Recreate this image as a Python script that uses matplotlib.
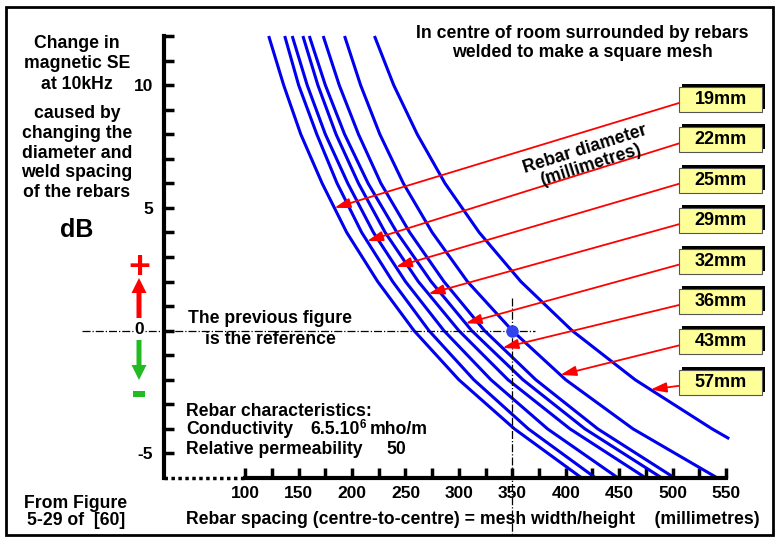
import numpy as np
import matplotlib
matplotlib.use("Agg")
import matplotlib.pyplot as plt
from matplotlib.patches import Rectangle, FancyArrow
from matplotlib.transforms import Affine2D

plt.rcParams['font.family'] = ['Liberation Sans', 'DejaVu Sans']
plt.rcParams['font.weight'] = 'bold'
plt.rcParams['axes.unicode_minus'] = False

# rebar diameters and the curves (spacing in mm at given dB)
diameters = ['19mm', '22mm', '25mm', '29mm', '32mm', '36mm', '43mm', '57mm']
db_levels = [12, 10, 8, 6, 4, 2, 0, -2, -4, -6]
spacing_19 = [122, 136, 152, 172, 195, 224, 258, 300, 352, 415]
spacing_22 = [137, 150, 167, 186, 209, 238, 272, 314, 365, 428]
spacing_25 = [144, 158, 175, 196, 220, 250, 286, 330, 383, 449]
spacing_29 = [154, 168, 185, 206, 231, 262, 300, 346, 404, 475]
spacing_32 = [160, 175, 193, 215, 242, 274, 312, 360, 418, 490]
spacing_36 = [173, 188, 206, 227, 254, 286, 324, 372, 430, 502]
spacing_43 = [193, 208, 226, 248, 275, 308, 350, 400, 463, 542]
db_57 = [12, 10, 8, 6, 4, 2, 0, -2, -4, -4.4]
spacing_57 = [221, 239, 261, 287, 319, 358, 406, 465, 537, 553]

curves = [(spacing_19, db_levels), (spacing_22, db_levels), (spacing_25, db_levels),
          (spacing_29, db_levels), (spacing_32, db_levels), (spacing_36, db_levels),
          (spacing_43, db_levels), (spacing_57, db_57)]

# dB level where each label's arrow touches its curve
arrow_db = [5.0, 3.65, 2.6, 1.5, 0.3, -0.7, -1.8, -2.4]

ref_spacing, ref_db = 350, 0

W, H = 780, 542
fig = plt.figure(figsize=(W / 100, H / 100), dpi=100)
# pixel coordinates measured from the top-left corner
pix = Affine2D().scale(1 / W, -1 / H).translate(0, 1) + fig.transFigure

ax = fig.add_axes([164 / W, 1 - 478 / H, 562 / W, 442 / H])
ax.set_xlim(24, 550)
ax.set_ylim(-6, 12)

for sp, db in curves:
    ax.plot(sp, db, color='#0000ee', lw=2.2, clip_on=False, solid_capstyle='butt',
            solid_joinstyle='round')

# reference cross-hair and dot
ax.plot([-53, 371], [ref_db, ref_db], color='black', lw=0.9, ls='-.', clip_on=False)
ax.plot([ref_spacing, ref_spacing], [1.35, -8.3], color='black', lw=0.9, ls='-.', clip_on=False)
ax.plot([ref_spacing], [ref_db], 'o', color='#3344ee', ms=8, clip_on=False, zorder=5)

# axes styling
for s in ['top', 'right']:
    ax.spines[s].set_visible(False)
ax.spines['left'].set_linewidth(3)
ax.spines['bottom'].set_linewidth(3)
ax.spines['bottom'].set_bounds(100, 550)
ax.plot([24, 100], [-6, -6], color='black', lw=2.5, ls=(0, (1, 1)), clip_on=False)

ax.set_xticks(range(100, 551, 50))
ax.set_xticks(range(125, 551, 50), minor=True)
ax.set_yticks([-5, 0, 5, 10])
ax.set_yticklabels(['-5', '', '5', '10'])
ax.set_yticks([y for y in range(-4, 13) if y % 5 != 0], minor=True)
ax.tick_params(which='both', direction='in', length=7, width=2.5, labelsize=12.5)
ax.tick_params(axis='y', pad=8)
ax.tick_params(axis='x', pad=6)
for lab in ax.get_xticklabels() + ax.get_yticklabels():
    lab.set_fontweight('bold')
# the zero label sits on the dash-dot line, a little further left
fig.text(144, 330, '0', transform=pix, ha='right', va='center', fontsize=12.5,
         bbox=dict(fc='white', ec='none', pad=0.5))

# label boxes with arrows pointing at the curves
for i, lab in enumerate(diameters):
    cy = 99.5 + 40.4 * i
    sp, db = curves[i]
    tip_x = np.interp(arrow_db[i], db[::-1], sp[::-1])
    ax.annotate('', xy=(tip_x, arrow_db[i]), xycoords='data',
                xytext=(679, cy + 3.5), textcoords=pix,
                arrowprops=dict(arrowstyle='-|>,head_length=0.95,head_width=0.3',
                                color='red', lw=1.3, shrinkA=0, shrinkB=0),
                annotation_clip=False)
    fig.add_artist(Rectangle((682, cy - 15.5), 83, 25, transform=pix, fc='black', ec='none', zorder=6))
    fig.add_artist(Rectangle((679, cy - 12.5), 83, 25, transform=pix, fc='#ffff99',
                             ec='#555555', lw=0.8, zorder=7))
    fig.text(720.5, cy, lab, transform=pix, ha='center', va='center', fontsize=13,
             fontweight='bold', zorder=8)

# texts
fs = 12.7
fig.text(582, 43, 'In centre of room surrounded by rebars\nwelded to make a square mesh',
         transform=pix, ha='center', va='center', fontsize=fs, linespacing=1.1)
fig.text(77, 64, 'Change in\nmagnetic SE\nat 10kHz', transform=pix, ha='center', va='center',
         fontsize=fs, linespacing=1.27)
fig.text(77, 153, 'caused by\nchanging the\ndiameter and\nweld spacing\nof the rebars', transform=pix,
         ha='center', va='center', fontsize=fs, linespacing=1.2)
fig.text(77, 230, 'dB', transform=pix, ha='center', va='center', fontsize=18)
fig.text(270, 329, 'The previous figure\nis the reference', transform=pix, ha='center', va='center',
         fontsize=fs, linespacing=1.25)
fig.text(186, 411, 'Rebar characteristics:', transform=pix, ha='left', va='center', fontsize=fs)
fig.text(186, 430, 'Conductivity', transform=pix, ha='left', va='center', fontsize=fs)
fig.text(310, 430, '6.5.10', transform=pix, ha='left', va='center', fontsize=fs)
fig.text(360, 425, '6', transform=pix, ha='left', va='center', fontsize=8.5)
fig.text(370, 430, 'mho/m', transform=pix, ha='left', va='center', fontsize=fs)
fig.text(186, 449, 'Relative permeability', transform=pix, ha='left', va='center', fontsize=fs)
fig.text(386, 449, '50', transform=pix, ha='left', va='center', fontsize=fs)
fig.text(588, 157, 'Rebar diameter\n(millimetres)', transform=pix, ha='center', va='center',
         fontsize=fs, rotation=17.5, rotation_mode='anchor', linespacing=0.95)
fig.text(76, 512, 'From Figure\n5-29 of  [60]', transform=pix, ha='center', va='center',
         fontsize=fs, linespacing=1.05)
fig.text(186, 520, 'Rebar spacing (centre-to-centre) = mesh width/height    (millimetres)',
         transform=pix, ha='left', va='center', fontsize=fs)

# plus / minus direction markers
fig.text(139, 268, '+', transform=pix, ha='center', va='center', fontsize=27, color='red')
fig.add_artist(FancyArrow(139, 318, 0, -40, width=5, head_width=15, head_length=15,
                          length_includes_head=True, transform=pix, color='red', lw=0))
fig.add_artist(FancyArrow(139, 340, 0, 40, width=5, head_width=15, head_length=15,
                          length_includes_head=True, transform=pix, color='#22bb22', lw=0))
fig.add_artist(Rectangle((133, 391), 12, 6, transform=pix, color='#22bb22', lw=0))

# outer frame
fig.add_artist(Rectangle((6, 7), 767, 528, transform=pix, fill=False, ec='black', lw=2))

fig.savefig('out.png', dpi=100)
